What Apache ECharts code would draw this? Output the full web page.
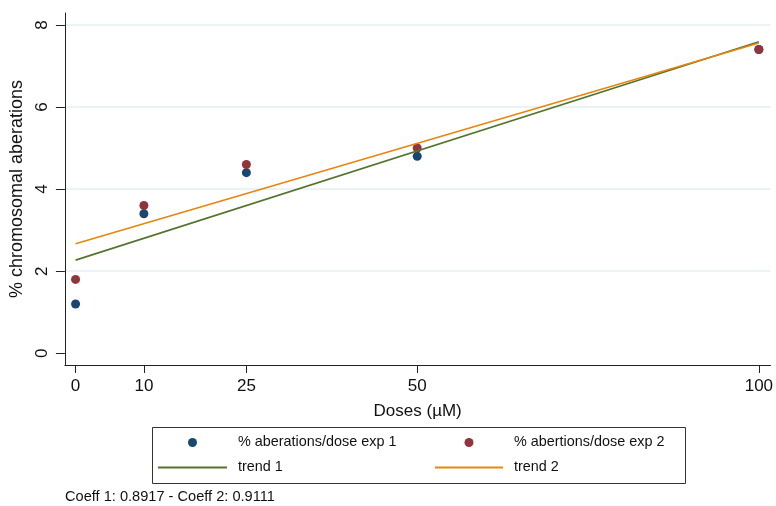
<!DOCTYPE html>
<html>
<head>
<meta charset="utf-8">
<script src="https://cdn.jsdelivr.net/npm/echarts@6/dist/echarts.min.js"></script>
<style>
  html, body { margin: 0; padding: 0; background: #fff; }
  #chart { width: 776px; height: 506px; }
</style>
</head>
<body>
<div id="chart"></div>
<script>
// doses on x, % aberrations on y
const doses = [0, 10, 25, 50, 100];
const exp1 = [1.2, 3.4, 4.4, 4.8, 7.4];
const exp2 = [1.8, 3.6, 4.6, 5.0, 7.4];
// fitted trend endpoints (at dose 0 and 100)
const trendX = [0, 100];
const trend1 = [2.27, 7.59];
const trend2 = [2.67, 7.56];
const xTicks = [0, 10, 25, 50, 100];
const yTicks = [0, 2, 4, 6, 8];
const gridTicks = [2, 4, 6, 8];

const font = "'Liberation Sans', Arial, sans-serif";
const pairs = (xs, ys) => xs.map((x, i) => [x, ys[i]]);

const chart = echarts.init(document.getElementById('chart'));

chart.setOption({
  animation: false,
  textStyle: { fontFamily: font },
  grid: { left: 62, right: 5, top: 13, bottom: 141 },
  title: {
    text: 'Coeff 1: 0.8917 - Coeff 2: 0.9111',
    left: 65, top: 489,
    padding: 0,
    textStyle: { fontSize: 14.6, fontWeight: 'normal', color: '#111', fontFamily: font }
  },
  xAxis: {
    type: 'value',
    min: -1.56, max: 101.7,
    name: 'Doses (µM)',
    nameLocation: 'middle',
    nameGap: 38,
    nameTextStyle: { fontSize: 17, color: '#111' },
    axisLine: { onZero: false, lineStyle: { color: '#222', width: 1 } },
    axisTick: { show: true, length: 8, customValues: xTicks, lineStyle: { color: '#222' } },
    axisLabel: { customValues: xTicks, fontSize: 17, color: '#111', margin: 13 },
    splitLine: { show: false }
  },
  yAxis: {
    type: 'value',
    min: -0.285, max: 8.29,
    name: '% chromosomal aberations',
    nameLocation: 'middle',
    nameRotate: 90,
    nameGap: 36,
    nameTextStyle: { fontSize: 18, color: '#111' },
    axisLine: { show: true, onZero: false, lineStyle: { color: '#222', width: 1 } },
    axisTick: { show: true, length: 9, customValues: yTicks, lineStyle: { color: '#222' } },
    axisLabel: { customValues: yTicks, fontSize: 17, color: '#111', rotate: 90, margin: 14 },
    splitLine: { show: false }
  },
  legend: [
    {
      orient: 'vertical', left: 152, top: 430,
      itemWidth: 69, itemHeight: 9, itemGap: 10,
      textStyle: { fontSize: 14.4, color: '#111', lineHeight: 15, padding: [0, 0, 0, 6] },
      data: ['% aberations/dose exp 1', { name: 'trend 1', itemStyle: { opacity: 0 } }]
    },
    {
      orient: 'vertical', left: 429, top: 430,
      itemWidth: 68, itemHeight: 9, itemGap: 10,
      textStyle: { fontSize: 14.4, color: '#111', lineHeight: 15, padding: [0, 0, 0, 6] },
      data: ['% abertions/dose exp 2', { name: 'trend 2', itemStyle: { opacity: 0 } }]
    }
  ],
  graphic: [
    {
      type: 'rect', left: 150, top: 425, silent: true,
      shape: { width: 533, height: 56 },
      style: { fill: 'none', stroke: '#333', lineWidth: 1 }
    }
  ],
  series: [
    {
      name: '% aberations/dose exp 1',
      type: 'scatter',
      symbolSize: 9,
      itemStyle: { color: '#1a476f', opacity: 1 },
      data: pairs(doses, exp1),
      markLine: {
        silent: true,
        symbol: 'none',
        label: { show: false },
        lineStyle: { color: '#e6eff1', width: 1.5, type: 'solid' },
        data: gridTicks.map(v => ({ yAxis: v })),
        z: 0
      }
    },
    {
      name: '% abertions/dose exp 2',
      type: 'scatter',
      symbolSize: 9,
      itemStyle: { color: '#90353b', opacity: 1 },
      data: pairs(doses, exp2)
    },
    {
      name: 'trend 1',
      type: 'line',
      symbol: 'none',
      lineStyle: { color: '#55752f', width: 1.6 },
      itemStyle: { color: '#55752f' },
      data: pairs(trendX, trend1)
    },
    {
      name: 'trend 2',
      type: 'line',
      symbol: 'none',
      lineStyle: { color: '#e8850c', width: 1.6 },
      itemStyle: { color: '#e8850c' },
      data: pairs(trendX, trend2)
    }
  ]
});
</script>
</body>
</html>
